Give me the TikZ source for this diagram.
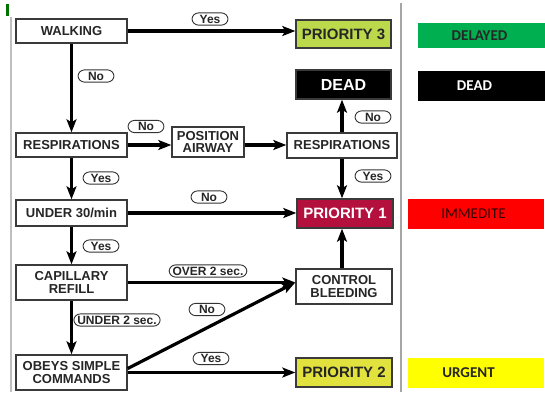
\documentclass[tikz,border=0pt]{standalone}
\usepackage{fontspec}
\setmainfont{Liberation Sans}
\newfontfamily\legendfont{Carlito}
\usetikzlibrary{arrows.meta}
\definecolor{boxline}{HTML}{3A3A3A}
\definecolor{prithree}{HTML}{BCD94C}
\definecolor{prione}{HTML}{B3103E}
\definecolor{pritwo}{HTML}{E2E23E}
\definecolor{lgreen}{HTML}{00B050}
\definecolor{lred}{HTML}{FF0000}
\definecolor{lyellow}{HTML}{FFFF00}
\tikzset{
  x=1pt, y=-1pt,
  stepbox/.style={draw=boxline, line width=1.4pt, fill=white, align=center,
    font=\fontsize{13}{14}\selectfont\bfseries, inner sep=0pt,
    text=black!85},
  prio/.style={stepbox, font=\fontsize{15}{16}\selectfont\bfseries},
  pill/.style={draw=black!80, line width=0.9pt, rounded corners=6.5pt, fill=white,
    font=\fontsize{12}{12}\selectfont\bfseries, text=black!85,
    minimum width=36pt, text height=8.6pt, text depth=0.4pt,
    inner xsep=3.5pt, inner ysep=1.6pt},
  flow/.style={line width=3.2pt, -{Stealth[length=13pt,width=10pt,inset=3pt]}},
  legendtext/.style={font=\legendfont\fontsize{15}{16}\selectfont\bfseries}
}
\begin{document}
\begin{tikzpicture}
\useasboundingbox (0,0) rectangle (545,392);
\fill[white] (0,0) rectangle (545,392);

% margin rules and corner mark
\draw[black!25, line width=1.5pt] (11,17) -- (11,392);
\draw[black!35, line width=2pt] (401,3) -- (401,392);
\fill[green!45!black] (6,4) rectangle (9,16);

% decision boxes
\node[stepbox, minimum width=111pt, minimum height=24pt] (walk) at (71.5,31) {WALKING};
\node[stepbox, minimum width=111pt, minimum height=24pt] (resp) at (71.5,145) {RESPIRATIONS};
\node[stepbox, minimum width=72pt, minimum height=30pt] (airway) at (208,142) {POSITION\\[-1.5pt]AIRWAY};
\node[stepbox, minimum width=110pt, minimum height=25pt] (resptwo) at (342,145.5) {RESPIRATIONS};
\node[stepbox, minimum width=111pt, minimum height=26pt] (rate) at (71.5,213) {UNDER 30/min};
\node[stepbox, minimum width=111pt, minimum height=35pt] (cap) at (71.5,282.5) {CAPILLARY\\[-1.5pt]REFILL};
\node[stepbox, minimum width=96pt, minimum height=35pt] (bleed) at (344,286.5) {CONTROL\\[-1.5pt]BLEEDING};
\node[stepbox, minimum width=111pt, minimum height=35pt] (obeys) at (71.5,372.5) {OBEYS SIMPLE\\[-1.5pt]COMMANDS};

% outcome boxes
\node[prio, fill=prithree, minimum width=95pt, minimum height=28pt] (pthree) at (343.5,34) {PRIORITY 3};
\node[prio, fill=black, text=white, font=\fontsize{16}{17}\selectfont\bfseries,
      minimum width=95pt, minimum height=29pt] (dead) at (343.5,84.5) {DEAD};
\node[prio, fill=prione, text=white, minimum width=96pt, minimum height=29pt] (pone) at (345,213.5) {PRIORITY 1};
\node[prio, fill=pritwo, minimum width=96pt, minimum height=29pt] (ptwo) at (344,372.5) {PRIORITY 2};

% connectors
\draw[flow] (walk.east) -- (walk.east -| pthree.west);
\draw[flow] (walk.south) -- (resp.north);
\draw[flow] (resp.east) -- (resp.east -| airway.west);
\draw[flow] (airway.east |- resp.east) -- (resptwo.west |- resp.east);
\draw[flow] (resptwo.north) -- (resptwo.north |- dead.south);
\draw[flow] (resptwo.south) -- (resptwo.south |- pone.north);
\draw[flow] (resp.south) -- (rate.north);
\draw[flow] (rate.east) -- (rate.east -| pone.west);
\draw[flow] (rate.south) -- (cap.north);
\draw[flow] (cap.east) -- (bleed.west |- cap.east);
\draw[flow] (cap.south) -- (obeys.north);
\coordinate (obeysout) at ([yshift=4pt]obeys.east);
\draw[flow] (obeysout) -- (bleed.west |- cap.east);
\draw[flow] (obeys.east) -- (obeys.east -| ptwo.west);
\draw[flow] (bleed.north -| resptwo.south) -- (pone.south -| resptwo.south);

% connector labels
\node[pill] (l1) at (210,19) {Yes};
\node[pill] (l2) at (96,76) {No};
\node[pill] (l3) at (146,126.5) {No};
\node[pill] (l4) at (373,117) {No};
\node[pill] (l5) at (373,176) {Yes};
\node[pill] (l6) at (101,178) {Yes};
\node[pill] (l7) at (209,197) {No};
\node[pill] (l8) at (101,246) {Yes};
\node[pill] (l9) at (208,271) {OVER 2 sec.};
\node[pill] (l10) at (117,320) {UNDER 2 sec.};
\node[pill] (l11) at (207,309.5) {No};
\node[pill] (l12) at (211,358.5) {Yes};

% legend
\fill[lgreen] (418,23) rectangle (545,48);
\node[legendtext, text=black!85] (kdelayed) at (479.5,35.5) {DELAYED};
\fill[black] (418,71) rectangle (545,101);
\node[legendtext, text=white] (kdead) at (474.5,86) {DEAD};
\fill[lred] (408,199) rectangle (544,229);
\node[legendtext, text=black!80!red, font=\legendfont\fontsize{15}{16}\selectfont] (kimm) at (473.5,213.5) {IMMEDITE};
\fill[lyellow] (408,358) rectangle (544,388);
\node[legendtext, text=black!85] (kurg) at (468.5,373) {URGENT};
\end{tikzpicture}
\end{document}
